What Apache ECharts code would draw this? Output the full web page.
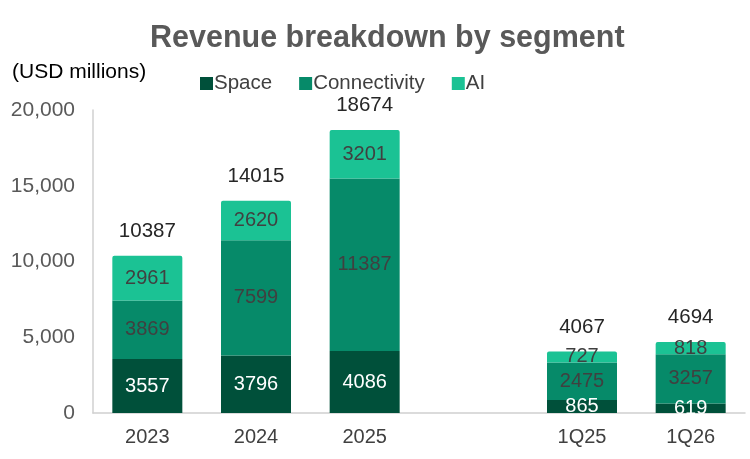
<!DOCTYPE html>
<html>
<head>
<meta charset="utf-8">
<script src="https://cdn.jsdelivr.net/npm/echarts@6/dist/echarts.min.js"></script>
<style>
  html, body { margin: 0; padding: 0; background: #fff; }
  #main { width: 750px; height: 459px; }
</style>
</head>
<body>
<div id="main"></div>
<script>
// 数据
const categories = ['2023', '2024', '2025', '', '1Q25', '1Q26']
const spaceData = [3557, 3796, 4086, '-', 865, 619]
const connectivityData = [3869, 7599, 11387, '-', 2475, 3257]
const aiData = [2961, 2620, 3201, '-', 727, 818]
const totals = [10387, 14015, 18674, '-', 4067, 4694]

const font = 'Liberation Sans, Arial, sans-serif'
const chart = echarts.init(document.getElementById('main'))

const segLabel = (color) => ({
  show: true,
  position: 'inside',
  color: color,
  fontSize: 20,
  fontFamily: font
})

const option = {
  animation: false,
  title: {
    text: 'Revenue breakdown by segment',
    left: 145,
    top: 18,
    textStyle: { fontSize: 30.5, fontWeight: 'bold', color: '#595959', fontFamily: font }
  },
  graphic: [{
    type: 'text',
    left: 12,
    top: 62,
    style: { text: '(USD millions)', fontSize: 21, fill: '#000', fontFamily: font }
  }],
  legend: {
    left: 195,
    top: 68,
    itemWidth: 13,
    itemHeight: 13,
    itemGap: 27,
    icon: 'rect',
    textStyle: { fontSize: 20.5, color: '#404040', fontFamily: font, padding: [0, 0, 0, -4] },
    data: ['Space', 'Connectivity', 'AI']
  },
  grid: { left: 93, right: 5, top: 110, bottom: 46 },
  xAxis: {
    type: 'category',
    data: categories,
    axisLine: { lineStyle: { color: '#d0d0d0', width: 1.5 } },
    axisTick: { show: false },
    axisLabel: { fontSize: 20, color: '#404040', fontFamily: font, margin: 14 }
  },
  yAxis: {
    type: 'value',
    min: 0,
    max: 20000,
    interval: 5000,
    axisLine: { show: true, lineStyle: { color: '#d0d0d0', width: 1.5 } },
    axisTick: { show: false },
    splitLine: { show: false },
    axisLabel: {
      fontSize: 21, color: '#595959', fontFamily: font, margin: 18,
      formatter: v => v.toLocaleString('en-US')
    }
  },
  series: [
    {
      name: 'Space', type: 'bar', stack: 'rev', barWidth: 70,
      itemStyle: { color: '#00503A' },
      label: segLabel('#ffffff'),
      data: spaceData
    },
    {
      name: 'Connectivity', type: 'bar', stack: 'rev',
      itemStyle: { color: '#068A69' },
      label: segLabel('#404040'),
      data: connectivityData
    },
    {
      name: 'AI', type: 'bar', stack: 'rev',
      itemStyle: { color: '#1BC294', borderRadius: [2, 2, 0, 0] },
      label: segLabel('#404040'),
      data: aiData
    },
    {
      name: 'Total', type: 'bar', stack: 'rev',
      itemStyle: { color: 'transparent' },
      silent: true,
      data: totals.map(v => v === '-' ? '-' : 0),
      label: {
        show: true,
        position: 'top',
        distance: 14,
        fontSize: 20.5,
        color: '#262626',
        fontFamily: font,
        formatter: p => totals[p.dataIndex]
      }
    }
  ]
}

chart.setOption(option)
</script>
</body>
</html>
